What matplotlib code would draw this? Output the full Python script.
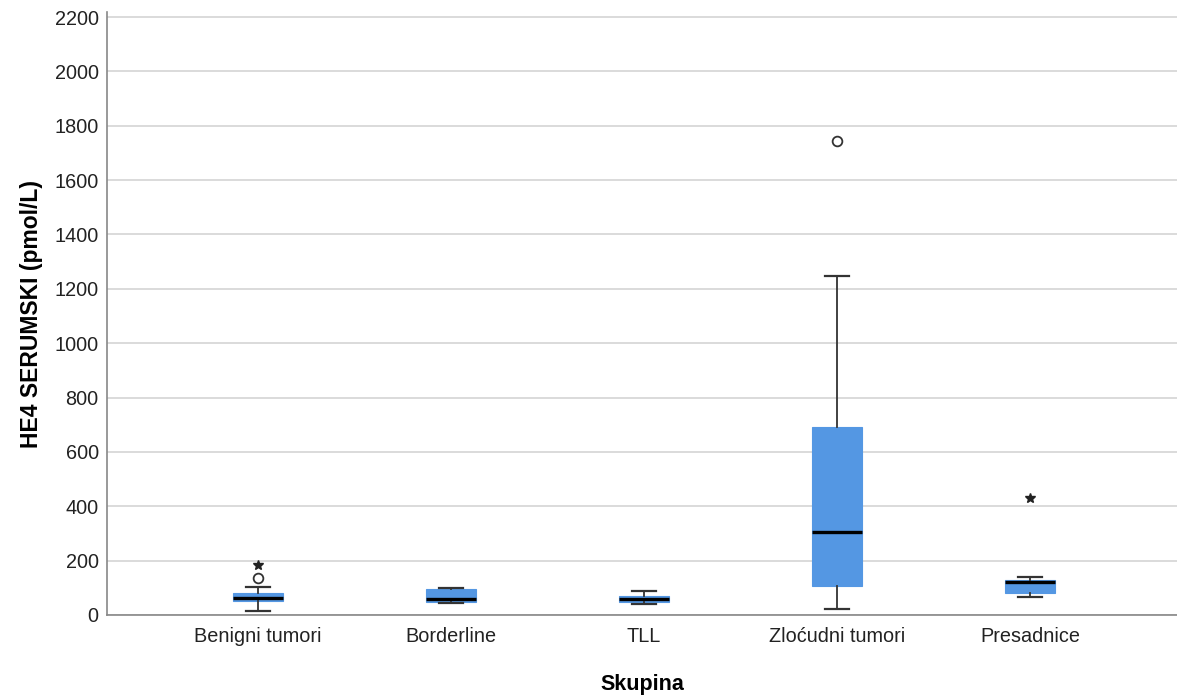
import matplotlib
matplotlib.use("Agg")
import matplotlib.pyplot as plt

groups = ['Benigni tumori', 'Borderline', 'TLL', 'Zloćudni tumori', 'Presadnice']
whislo = [16, 43, 39, 21, 66]
q1 = [51, 49, 47, 107, 80]
med = [64, 60, 59, 304, 120]
q3 = [80, 94, 70, 693, 129]
whishi = [102, 98, 89, 1247, 140]
outliers = [[135], [], [], [1744], []]
extremes = [[184], [], [], [], [430]]
yticks = [0, 200, 400, 600, 800, 1000, 1200, 1400, 1600, 1800, 2000, 2200]

plt.rcParams['font.family'] = ['Liberation Sans', 'DejaVu Sans']

fig = plt.figure(figsize=(11.77, 6.95), dpi=100)
ax = fig.add_axes([107/1177, 80/695, 1 - 107/1177, (614.5 - 11.5)/695])

stats = []
for i, g in enumerate(groups):
    stats.append(dict(label=g, whislo=whislo[i], q1=q1[i], med=med[i],
                      q3=q3[i], whishi=whishi[i], fliers=outliers[i]))

pos = list(range(1, len(groups) + 1))
ax.bxp(stats, positions=pos, widths=0.255, patch_artist=True, showfliers=True,
       boxprops=dict(facecolor='#5497E3', edgecolor='#5497E3', linewidth=0.8),
       medianprops=dict(color='black', linewidth=2.4, solid_capstyle='butt'),
       whiskerprops=dict(color='#333333', linewidth=1.3),
       capprops=dict(color='#333333', linewidth=1.6),
       capwidths=0.125,
       flierprops=dict(marker='o', markerfacecolor='none', markeredgecolor='#333333',
                       markersize=7, markeredgewidth=1.3, linestyle='none'),
       zorder=3)

for i, ex in enumerate(extremes):
    if ex:
        ax.plot([pos[i]] * len(ex), ex, linestyle='none', marker='*', color='#222222',
                markersize=7, zorder=4)

ax.set_xlim(1 - 151/193, 5 + 147/193)
ax.set_ylim(0, 2200 + 5 * 2200 / 598)
ax.set_yticks(yticks)
ax.set_xticks(pos)
ax.set_xticklabels(groups)
ax.yaxis.grid(True, color='#d4d4d4', linewidth=1.2, zorder=0)
ax.set_axisbelow(True)
for s in ['top', 'right']:
    ax.spines[s].set_visible(False)
for s in ['left', 'bottom']:
    ax.spines[s].set_color('#888888')
    ax.spines[s].set_linewidth(1.2)
ax.tick_params(axis='both', length=0, labelsize=14.3, colors='#222222')
ax.tick_params(axis='x', pad=9)
ax.tick_params(axis='y', pad=6)
ax.set_ylabel('HE4 SERUMSKI (pmol/L)', fontsize=16.5, fontweight='bold', labelpad=8)
ax.set_xlabel('Skupina', fontsize=15.5, fontweight='bold', labelpad=20)

fig.savefig('out.png', dpi=100)
